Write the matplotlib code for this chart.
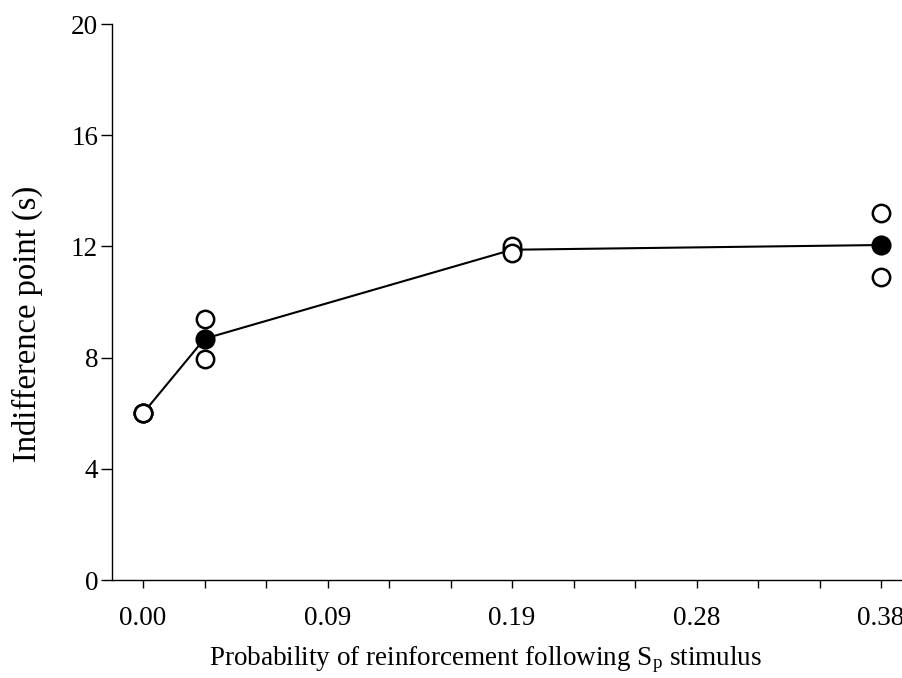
import matplotlib
matplotlib.use("Agg")
import matplotlib.pyplot as plt
import numpy as np

plt.rcParams['font.family'] = ['Liberation Serif', 'DejaVu Serif']
plt.rcParams['mathtext.fontset'] = 'custom'
plt.rcParams['mathtext.rm'] = 'Liberation Serif'
plt.rcParams['mathtext.it'] = 'Liberation Serif:italic'

# probability of reinforcement after the Sp stimulus
prob = [0.0, 0.03125, 0.1875, 0.375]
# indifference points (s) for the two subjects and their mean
subj_a = [6.0, 9.4, 12.0, 13.2]
subj_b = [6.0, 7.95, 11.75, 10.9]
mean_pt = [6.0, 8.68, 11.88, 12.05]

xticks = [0.0, 0.09375, 0.1875, 0.28125, 0.375]
xtick_labels = ['0.00', '0.09', '0.19', '0.28', '0.38']
yticks = [0, 4, 8, 12, 16, 20]

W, H = 902, 678
fig = plt.figure(figsize=(W / 100, H / 100), dpi=100)
x0, x1 = -0.0158, 0.39
left, right, top, bottom = 112, 910.6, 24, 580
ax = fig.add_axes([left / W, 1 - bottom / H, (right - left) / W, (bottom - top) / H])

ax.plot(prob, mean_pt, '-', color='black', lw=1.5, marker='o', ms=13,
        mfc='black', mec='black', mew=1.5, zorder=2, clip_on=False)
for ys in (subj_a, subj_b):
    ax.plot(prob, ys, 'o', ms=12.5, mfc='white', mec='black', mew=1.8,
            zorder=3, clip_on=False)

ax.set_xlim(x0, x1)
ax.set_ylim(0, 20)
ax.set_xticks(xticks)
ax.set_xticklabels(xtick_labels)
ax.set_xticks(np.arange(0, 0.39, 0.03125), minor=True)
ax.set_yticks(yticks)

for s in ('top', 'right'):
    ax.spines[s].set_visible(False)
for s in ('left', 'bottom'):
    ax.spines[s].set_linewidth(1.0)

ax.tick_params(axis='x', which='both', direction='out', length=6, width=1.0,
               labelsize=19.5, pad=13)
ax.tick_params(axis='y', direction='out', length=8, width=1.0,
               labelsize=19.5, pad=2)

ax.set_xlabel('Probability of reinforcement following S$_\\mathrm{p}$ stimulus',
              fontsize=19.5)
ax.set_ylabel('Indifference point (s)', fontsize=23.5)
ax.xaxis.set_label_coords((486 - left) / (right - left), -(660 - bottom) / (bottom - top),
                          transform=ax.transAxes)
ax.yaxis.set_label_coords(-(left - 27) / (right - left), (bottom - 324) / (bottom - top),
                          transform=ax.transAxes)
ax.xaxis.label.set_va('center')
ax.yaxis.label.set_va('center')

fig.savefig('out.png', dpi=100)
